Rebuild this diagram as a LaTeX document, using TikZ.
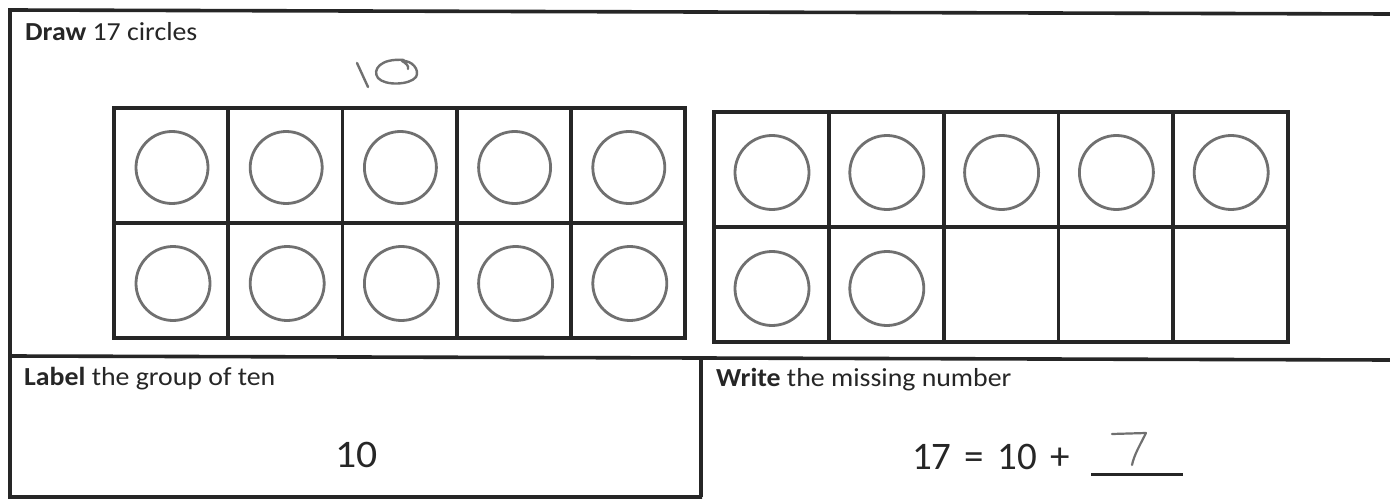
\documentclass[tikz,border=0pt]{standalone}
\usepackage{fontspec}
\setmainfont[FakeStretch=1.07]{Carlito}
\newfontfamily\eqfont[WordSpace=1.5]{Carlito}
\definecolor{ink}{RGB}{38,38,38}
\definecolor{pencil}{RGB}{112,112,112}
\begin{document}
\begin{tikzpicture}[x=1pt,y=-1pt,
  frameline/.style={draw=ink,line width=3.6pt},
  gridline/.style={draw=ink,line width=3.8pt},
  drawn/.style={draw=pencil,line width=2.8pt},
  hand/.style={draw=pencil,line width=2.4pt,line cap=round,line join=round},
  label/.style={anchor=base west,inner sep=0pt,text=ink,font=\fontsize{26}{30}\selectfont},
  bignum/.style={anchor=base west,inner sep=0pt,text=ink,font=\fontsize{39}{44}\selectfont}]
\useasboundingbox[fill=white] (0,0) rectangle (1390,500);
% outer frame (right edge is cut off by the scan)
\coordinate (tl) at (10,10);
\coordinate (tr) at (1390,14);
\coordinate (bl) at (10,497);
\coordinate (br) at (702,497);
\coordinate (ml) at (10,356);
\coordinate (mr) at (1390,360);
\coordinate (dt) at (701,357);
\coordinate (db) at (701,497);
\draw[frameline] (tr) -- (tl) -- (bl) -- (br);
\draw[frameline] (ml) -- (mr);
\draw[frameline] (dt) -- (db);
% ten frame 1
\foreach \i in {0,...,5} {\draw[gridline] (114+114.2*\i,108) -- (114+114.2*\i,339);}
\foreach \j in {0,1,2} {\draw[gridline] (112,108+115*\j) -- (687,108+115*\j);}
% ten frame 2
\foreach \i in {0,...,5} {\draw[gridline] (714+114.8*\i,112) -- (714+114.8*\i,343);}
\foreach \j in {0,1,2} {\draw[gridline] (712,112+115*\j) -- (1290,112+115*\j);}
% circles
\foreach \i in {0,...,4} {
  \draw[drawn] (114+114.2*\i+58,108+57.5+2) circle[radius=36pt];
  \draw[drawn] (114+114.2*\i+59,223+57.5+3) circle[radius=37pt];
  \draw[drawn] (714+114.8*\i+58,112+57.5+3) circle[radius=37pt];
}
\foreach \i in {0,1} {
  \draw[drawn] (714+114.8*\i+58,227+57.5+4) circle[radius=37pt];
}
% handwritten 10 above the first frame
\draw[hand] (357,63) -- (368,87);
\draw[hand] (404,60) .. controls (380,58) and (372,70) .. (378,78)
  .. controls (385,86) and (410,85) .. (416,77)
  .. controls (420,70) and (412,60) .. (402,61)
  .. controls (406,63) and (409,66) .. (408,69);
% texts
\node[label] (title) at (25,41) {\textbf{Draw} 17 circles};
\node[label] (lbl) at (24,385) {\textbf{Label} the group of ten};
\node[label] (wrt) at (716,386) {\textbf{Write} the missing number};
\node[bignum] (ten) at (335,467) {10};
\node[bignum,font=\eqfont\fontsize{39}{44}\selectfont] (eq) at (912,469) {17 = 10 +};
% answer line and handwritten 7
\coordinate (ua) at (1091,474);
\coordinate (ub) at (1183,474);
\draw[draw=ink,line width=3pt] (ua) -- (ub);
\draw[hand,line width=2.2pt] (1112,434) -- (1146,433) .. controls (1140,445) and (1134,455) .. (1132,465);
\end{tikzpicture}
\end{document}
